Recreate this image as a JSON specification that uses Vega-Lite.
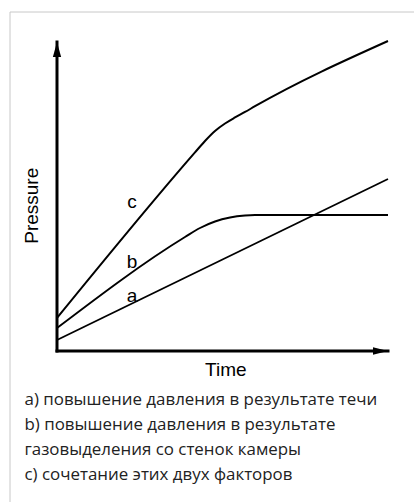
{
  "$schema": "https://vega.github.io/schema/vega-lite/v6.json",
  "width": 407,
  "height": 493,
  "autosize": "none",
  "padding": {"left": 9.5, "top": 11.5, "right": -2.5, "bottom": -2.5},
  "background": "white",
  "config": {"view": {"stroke": "#c8c8c8", "strokeWidth": 1}},
  "title": {
    "text": ["a) повышение давления в результате течи", "b) повышение давления в результате", "газовыделения со стенок камеры", "c) сочетание этих двух факторов"],
    "orient": "bottom",
    "anchor": "start",
    "frame": "group",
    "offset": -112.5,
    "dx": 15,
    "baseline": "top",
    "font": "Open Sans",
    "fontSize": 16.9,
    "fontWeight": "normal",
    "color": "#222222",
    "lineHeight": 25
  },
  "datasets": {
    "curves": [
      {"series": "a", "Time": 0, "Pressure": 0.356},
      {"series": "a", "Time": 10, "Pressure": 5.566},
      {"series": "b", "Time": 0, "Pressure": 0.744},
      {"series": "b", "Time": 3.867, "Pressure": 3.689},
      {"series": "b", "Time": 4.32, "Pressure": 3.981},
      {"series": "b", "Time": 4.773, "Pressure": 4.191},
      {"series": "b", "Time": 5.227, "Pressure": 4.32},
      {"series": "b", "Time": 5.68, "Pressure": 4.385},
      {"series": "b", "Time": 5.982, "Pressure": 4.401},
      {"series": "b", "Time": 10, "Pressure": 4.401},
      {"series": "c", "Time": 0, "Pressure": 1.068},
      {"series": "c", "Time": 4.169, "Pressure": 6.427},
      {"series": "c", "Time": 4.471, "Pressure": 6.796},
      {"series": "c", "Time": 4.773, "Pressure": 7.12},
      {"series": "c", "Time": 5.076, "Pressure": 7.362},
      {"series": "c", "Time": 5.378, "Pressure": 7.557},
      {"series": "c", "Time": 5.68, "Pressure": 7.735},
      {"series": "c", "Time": 5.982, "Pressure": 7.922},
      {"series": "c", "Time": 10, "Pressure": 10.032}
    ],
    "axes": [
      {"axis": "x", "Time": 0, "Pressure": 0, "Time2": 10, "Pressure2": 0},
      {"axis": "y", "Time": 0, "Pressure": 0, "Time2": 0, "Pressure2": 10}
    ],
    "labels": [
      {"text": "a", "Time": 2.266, "Pressure": 1.586},
      {"text": "b", "Time": 2.266, "Pressure": 2.686},
      {"text": "c", "Time": 2.266, "Pressure": 4.628},
      {"text": "Time", "Time": 5.1, "Pressure": -0.81}
    ],
    "ylabel": [
      {"text": "Pressure", "Time": -0.574, "Pressure": 4.7}
    ]
  },
  "encoding": {
    "x": {"field": "Time", "type": "quantitative", "scale": {"domain": [-1.435, 10.861], "nice": false, "zero": false}, "axis": null},
    "y": {"field": "Pressure", "type": "quantitative", "scale": {"domain": [-4.968, 10.987], "nice": false, "zero": false}, "axis": null}
  },
  "layer": [
    {
      "data": {"name": "axes"},
      "mark": {"type": "rule", "color": "black", "strokeWidth": 3, "strokeCap": "square"},
      "encoding": {
        "x2": {"field": "Time2"},
        "y2": {"field": "Pressure2"}
      }
    },
    {
      "data": {"name": "axes"},
      "transform": [{"filter": "datum.axis === 'y'"}],
      "mark": {"type": "point", "filled": true, "color": "black", "opacity": 1, "size": 225, "shape": "M0,0L0.55,2L-0.55,2Z"},
      "encoding": {
        "x": {"field": "Time2", "type": "quantitative"},
        "y": {"field": "Pressure2", "type": "quantitative"}
      }
    },
    {
      "data": {"name": "axes"},
      "transform": [{"filter": "datum.axis === 'x'"}],
      "mark": {"type": "point", "filled": true, "color": "black", "opacity": 1, "size": 225, "shape": "M0,0L-2,-0.5L-2,0.5Z"},
      "encoding": {
        "x": {"field": "Time2", "type": "quantitative"},
        "y": {"field": "Pressure2", "type": "quantitative"}
      }
    },
    {
      "data": {"name": "curves"},
      "mark": {"type": "line", "color": "black", "interpolate": "monotone"},
      "encoding": {
        "detail": {"field": "series", "type": "nominal"},
        "strokeWidth": {"field": "series", "type": "nominal", "scale": {"domain": ["a", "b", "c"], "range": [1.8, 2, 3.2]}, "legend": null}
      }
    },
    {
      "data": {"name": "labels"},
      "mark": {"type": "text", "font": "Liberation Sans", "fontSize": 19, "color": "black", "align": "center", "baseline": "alphabetic"},
      "encoding": {"text": {"field": "text"}}
    },
    {
      "data": {"name": "ylabel"},
      "mark": {"type": "text", "font": "Liberation Sans", "fontSize": 19, "color": "black", "align": "center", "baseline": "alphabetic", "angle": 270},
      "encoding": {"text": {"field": "text"}}
    }
  ]
}
